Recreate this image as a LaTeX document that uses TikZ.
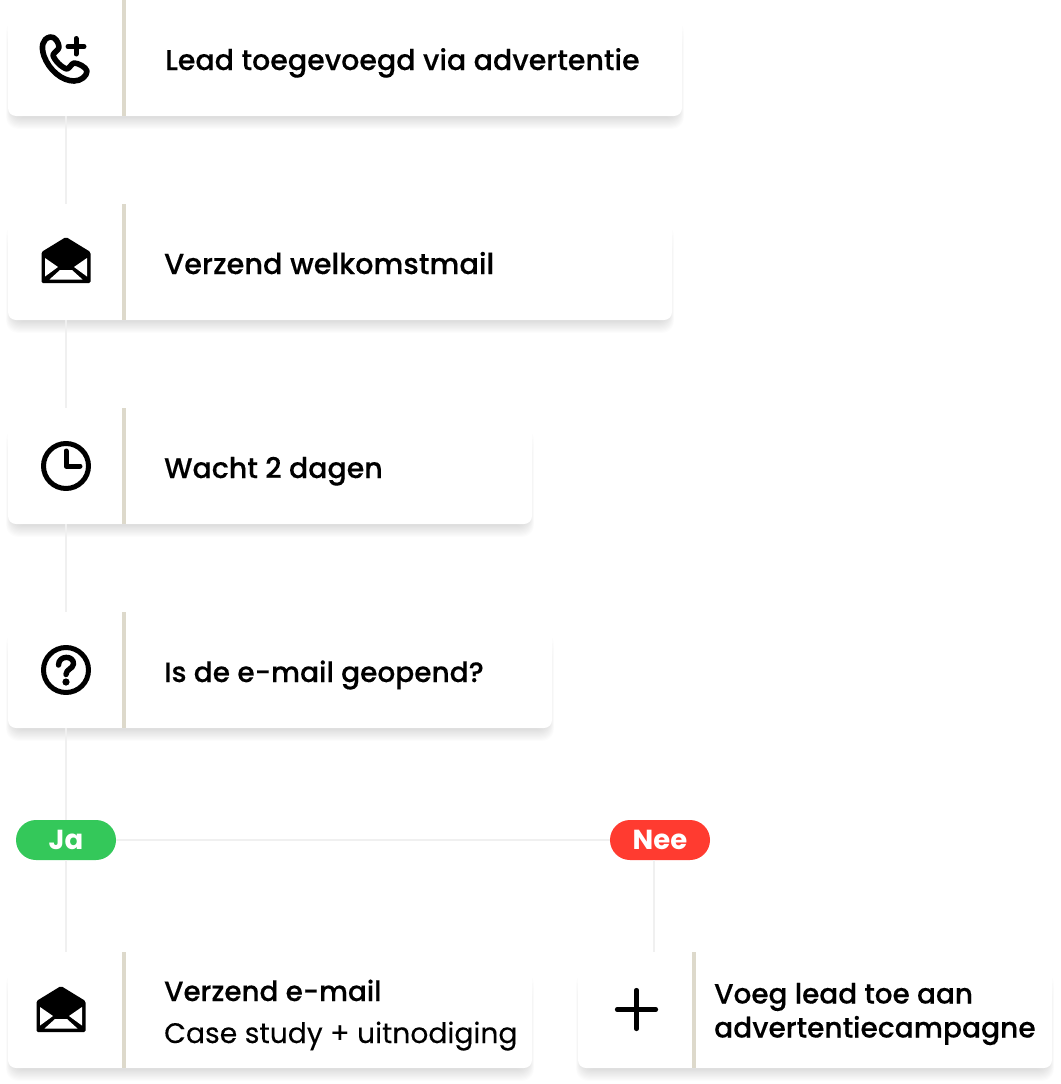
\documentclass[tikz,border=0pt]{standalone}
\usepackage{fontspec}
\setmainfont[FakeBold=0.25]{Poppins Medium}
\newfontfamily\boldf{Poppins Bold}
\newfontfamily\regf[FakeBold=0.2]{Poppins}
\usetikzlibrary{calc}
\definecolor{divc}{HTML}{DDD9CB}
\definecolor{linec}{HTML}{F0F0F0}
\definecolor{jac}{HTML}{34C85A}
\definecolor{neec}{HTML}{FF3B30}
\newcommand{\fs}[1]{\fontsize{#1}{34}\selectfont}
\tikzset{
  x=1pt,y=-1pt,
  card/.style={anchor=north west,fill=white,rounded corners=8pt,minimum height=116pt,inner sep=0pt,outer sep=0pt},
  cell/.style={anchor=north west,minimum width=116pt,minimum height=116pt,inner sep=0pt,outer sep=0pt},
  link/.style={draw=linec,line width=2pt},
  pill/.style={rounded corners=20pt,minimum width=100pt,minimum height=40pt,inner sep=0pt,text=white,font=\boldf\fontsize{27.5}{28}\selectfont},
  label/.style={anchor=base west,inner sep=0pt,text=black,align=left},
  icon/.style={draw=black,line width=5pt,line cap=round,line join=round},
}
\newcommand{\softshadow}[4]{% x y w h
  \foreach \k in {0,...,11}{
    \fill[black,opacity=0.013,rounded corners=12pt]
      (#1+\k*0.5-2,#2+20+\k*4) rectangle (#1+#3-\k*0.5+2,#2+#4+13-\k*1.1);
  }
}
\newcommand{\envelope}[2]{%
  \begin{scope}[shift={(#1,#2)}]
    \fill[black,rounded corners=1.5pt] (0,-23) -- (24.5,-8) -- (24.5,23) -- (-24.5,23) -- (-24.5,-8) -- cycle;
    \fill[white] (-21,-2) -- (-21,16.5) -- (-8,7) -- cycle;
    \fill[white] (21,-2) -- (21,16.5) -- (8,7) -- cycle;
    \fill[white] (-16.5,19.5) -- (16.5,19.5) -- (6,10) -- (-6,10) -- cycle;
  \end{scope}}
\begin{document}
\begin{tikzpicture}
\useasboundingbox (0,0) rectangle (1060,1084);
\fill[white] (0,0) rectangle (1060,1084);
% shadows
\softshadow{8}{0}{674}{116}
\softshadow{8}{204}{664}{116}
\softshadow{8}{408}{524}{116}
\softshadow{8}{612}{544}{116}
\softshadow{8}{952}{524}{116}
\softshadow{578}{952}{474}{116}
% cards
\node[card,minimum width=674pt] (c1) at (8,0) {};
\node[card,minimum width=664pt] (c2) at (8,204) {};
\node[card,minimum width=524pt] (c3) at (8,408) {};
\node[card,minimum width=544pt] (c4) at (8,612) {};
\node[card,minimum width=524pt] (c5) at (8,952) {};
\node[card,minimum width=474pt] (c6) at (578,952) {};
% icon cells
\node[cell] (i1) at (8,0) {};
\node[cell] (i2) at (8,204) {};
\node[cell] (i3) at (8,408) {};
\node[cell] (i4) at (8,612) {};
\node[cell] (i5) at (8,952) {};
\node[cell] (i6) at (578,952) {};
% dividers
\foreach \yy in {0,204,408,612,952}{\fill[divc] (122,\yy) rectangle (126,\yy+116);}
\fill[divc] (692,952) rectangle (696,1068);
% pills
\node[pill,fill=jac] (ja) at (66,840) {\raisebox{-1pt}{Ja}};
\node[pill,fill=neec] (nee) at (660,840) {\raisebox{-1pt}{Nee}};
\coordinate (nt) at (654,952);
% connectors
\draw[link] (i1.south) -- (i2.north);
\draw[link] (i2.south) -- (i3.north);
\draw[link] (i3.south) -- (i4.north);
\draw[link] (i4.south) -- (ja.north);
\draw[link] (ja.south) -- (i5.north);
\draw[link] (ja.east) -- (nee.west);
\draw[link] (nee.south -| nt) -- (nt);
% labels
\node[label,font=\fs{28.5}] (t1) at (165,70) {Lead toegevoegd via advertentie};
\node[label,font=\fs{28.8}] (t2) at (164,274) {Verzend welkomstmail};
\node[label,font=\fs{28.4}] (t3) at (164,478) {Wacht 2 dagen};
\node[label,font=\fs{28}] (t4) at (164,682) {Is de e-mail geopend?};
\node[label,font=\fs{27.8}] (t5) at (164,1001) {Verzend e-mail};
\node[label,font=\regf\fs{28.2}] (t5b) at (164,1043) {Case study + uitnodiging};
\node[label,font=\fs{27.9}] (t6a) at (714,1003.5) {Voeg lead toe aan};
\node[label,font=\fs{28.1}] (t6b) at (714,1037.5) {advertentiecampagne};
% icons
\envelope{66}{260}
\envelope{61}{1009}
\draw[icon] (66,466) circle (22.5);
\draw[icon] (66,451) -- (66,466) -- (80,466);
\draw[icon] (66,670) circle (22.5);
\draw[icon,line width=5.4pt] (58.5,665) .. controls (58.5,655) and (74,655) .. (73.5,664) .. controls (73,669) and (66,669) .. (66,674.5);
\fill (66,682) circle (3.6);
\draw[icon,line width=4.2pt] (617,1009.5) -- (656,1009.5) (636.5,990) -- (636.5,1029);
\draw[icon] (76,38.5) -- (76,54) (68,46.5) -- (84,46.5);
\draw[icon,line width=5.6pt] (50,37) .. controls (42,39) and (41,47) .. (44,56) .. controls (49,70) and (62,81) .. (74,81) .. controls (81,81) and (87,76) .. (87,71) .. controls (86,67) and (78,63) .. (74,63) .. controls (71,64) and (70,68) .. (67,69) .. controls (62,68) and (54,60) .. (53,55) .. controls (54,52) and (59,50) .. (59,47) .. controls (59,43) and (55,36) .. (50,37) -- cycle;
\end{tikzpicture}
\end{document}
